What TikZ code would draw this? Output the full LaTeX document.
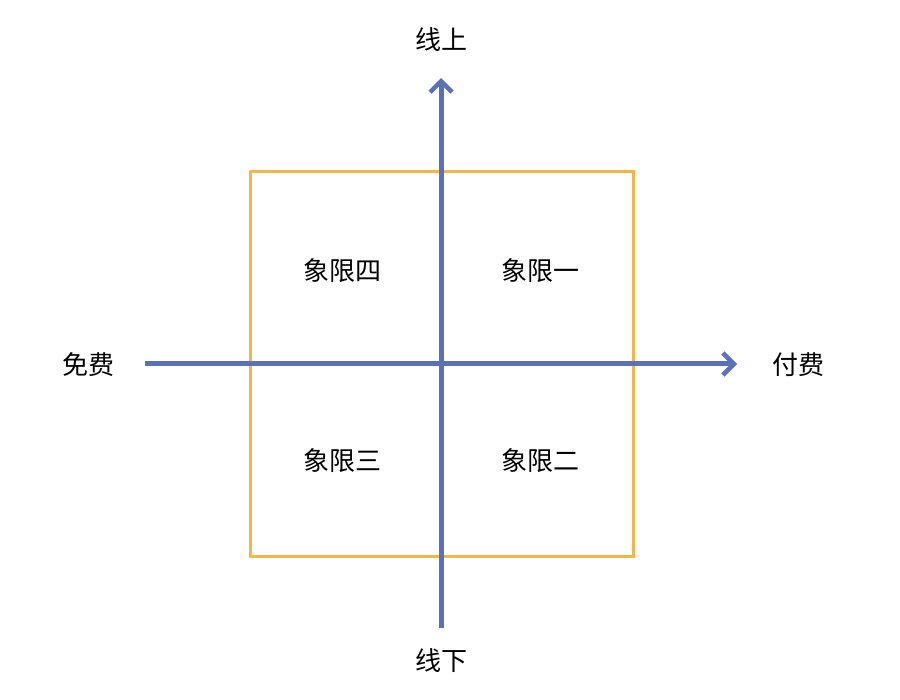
\documentclass[tikz,border=0pt]{standalone}
\usepackage{fontspec}
\setmainfont{Noto Sans CJK SC}
\usetikzlibrary{arrows.meta}
\definecolor{axis}{HTML}{5B71B5}
\definecolor{boxc}{HTML}{F5B54D}
\begin{document}
\begin{tikzpicture}[x=1pt,y=-1pt,
  lbl/.style={font=\fontsize{26}{30}\selectfont,inner sep=0pt},
  axisline/.style={draw=axis,line width=5pt,-{Straight Barb[length=11pt,width=22pt,line width=4.5pt]}}]
\useasboundingbox (0,0) rectangle (900,700);
\draw[boxc,line width=3pt] (250,172) rectangle (633,556);
\coordinate (vb) at (441,628);
\coordinate (vt) at (441,78);
\coordinate (hl) at (145,364);
\coordinate (hr) at (737,364);
\draw[axisline] (vb) -- (vt);
\draw[axisline] (hl) -- (hr);
\node[lbl] (up) at (441,40) {线上};
\node[lbl] (down) at (441,661) {线下};
\node[lbl] (free) at (88,365) {免费};
\node[lbl] (paid) at (798,365) {付费};
\node[lbl] (q4) at (342,271) {象限四};
\node[lbl] (q1) at (540,271) {象限一};
\node[lbl] (q3) at (342,461) {象限三};
\node[lbl] (q2) at (540,461) {象限二};
\end{tikzpicture}
\end{document}
